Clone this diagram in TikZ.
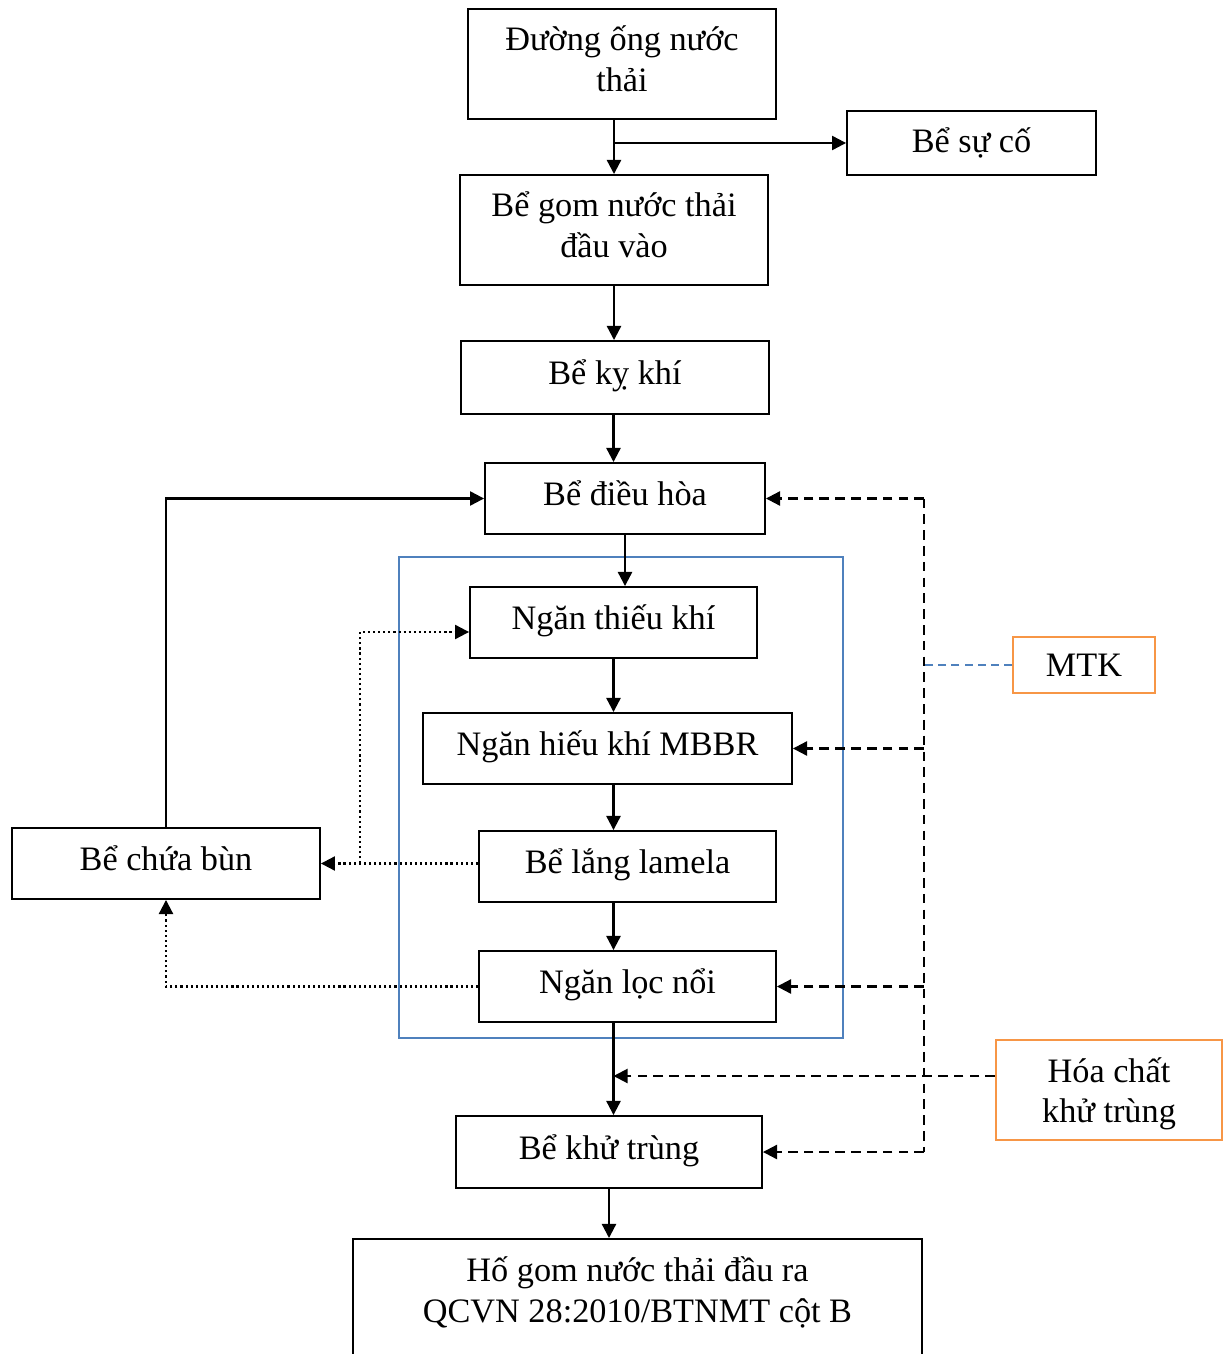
\documentclass[tikz,border=0pt]{standalone}
\usepackage{fontspec}
\setmainfont{Liberation Serif}
\usepackage{tikz}
\usetikzlibrary{calc}
\usetikzlibrary{arrows.meta}
\usepackage{xcolor}
\definecolor{khungxanh}{HTML}{4F81BD}
\definecolor{khungcam}{HTML}{F79646}

\begin{document}
\begin{tikzpicture}[x=0.02cm,y=-0.02cm,
        font=\fontsize{19.5}{23}\selectfont,
        >={Triangle[length=8pt,width=8pt]},
        khung/.style={draw,line width=1.1pt,align=center,inner sep=2pt},
        hop/.style={khung,text depth=6pt},
        hopcam/.style={draw=khungcam,line width=1.1pt,align=center,inner sep=2pt},
        chinh/.style={->,line width=1.25pt},
        hoachat/.style={->,line width=1.2pt,dash pattern=on 5.5pt off 3.5pt},
        bun/.style={->,line width=1.2pt,dash pattern=on 1.2pt off 1.7pt}]
        \clip (0,0) rectangle (1229,1354);

        \node[hop,minimum width=6.16cm,minimum height=2.2cm] (ong) at (622,64) {Đường ống nước\\thải};
        \node[khung,minimum width=4.98cm,minimum height=1.28cm] (suco) at (971.5,143) {Bể sự cố};
        \node[hop,minimum width=6.16cm,minimum height=2.2cm] (gom) at (614,230) {Bể gom nước thải\\đầu vào};
        \node[hop,minimum width=6.16cm,minimum height=1.46cm] (kykhi) at (615,377.5) {Bể kỵ khí};
        \node[hop,minimum width=5.6cm,minimum height=1.42cm] (dieuhoa) at (625,498.5) {Bể điều hòa};
        \node[hop,minimum width=5.74cm,minimum height=1.42cm] (thieukhi) at (613.5,622.5) {Ngăn thiếu khí};
        \node[hop,minimum width=7.38cm,minimum height=1.42cm] (mbbr) at (607.5,748.5) {Ngăn hiếu khí MBBR};
        \node[hop,minimum width=6.16cm,minimum height=1.42cm] (chuabun) at (166,863.5) {Bể chứa bùn};
        \node[hop,minimum width=5.94cm,minimum height=1.42cm] (lang) at (627.5,866.5) {Bể lắng lamela};
        \node[hop,minimum width=5.94cm,minimum height=1.42cm] (locnoi) at (627.5,986.5) {Ngăn lọc nổi};
        \node[hop,minimum width=6.12cm,minimum height=1.44cm] (khutrung) at (609,1152) {Bể khử trùng};
        \node[khung,minimum width=11.38cm,minimum height=2.84cm,anchor=north] (hogom) at (637.5,1238) {Hố gom nước thải đầu ra\\QCVN 28:2010/BTNMT cột B\\ };
        \node[hopcam,minimum width=2.84cm,minimum height=1.12cm] (mtk) at (1084,665) {MTK};
        \node[hopcam,text depth=0pt,minimum width=4.52cm,minimum height=2cm] (hoachat) at (1109,1090) {Hóa chất\\khử trùng};

        \draw[khungxanh,line width=0.9pt] (399,557) rectangle (843,1038);

        \draw[chinh] (gom.north |- ong.south) -- (gom.north);
        \draw[chinh] (gom.north |- suco.west) -- (suco.west);
        \draw[chinh] (gom.south) -- (gom.south |- kykhi.north);
        \draw[chinh] (thieukhi.south |- kykhi.south) -- (thieukhi.south |- dieuhoa.north);
        \draw[chinh] (dieuhoa.south) -- (dieuhoa.south |- thieukhi.north);
        \draw[chinh] (thieukhi.south) -- (thieukhi.south |- mbbr.north);
        \draw[chinh] (thieukhi.south |- mbbr.south) -- (thieukhi.south |- lang.north);
        \draw[chinh] (thieukhi.south |- lang.south) -- (thieukhi.south |- locnoi.north);
        \draw[chinh] (thieukhi.south |- locnoi.south) -- (thieukhi.south |- khutrung.north);
        \draw[chinh] (khutrung.south) -- (khutrung.south |- hogom.north);
        \draw[chinh] (chuabun.north) -- (chuabun.north |- dieuhoa.west) -- (dieuhoa.west);

        \coordinate (re) at (360,863.5);
        \draw[bun] (chuabun.east -| lang.west) -- (chuabun.east);
        \draw[bun] (re) |- ([yshift=-0.19cm]thieukhi.west);
        \draw[bun] (locnoi.west) -| (chuabun.south);

        \coordinate (dautren) at (924,498.5);
        \coordinate (dauduoi) at (924,1152);
        \draw[line width=1.2pt,dash pattern=on 5.5pt off 3.5pt] (dautren) -- (dauduoi);
        \draw[hoachat] (dautren) -- (dieuhoa.east);
        \draw[hoachat] (dautren |- mbbr.east) -- (mbbr.east);
        \draw[hoachat] (dautren |- locnoi.east) -- (locnoi.east);
        \draw[hoachat] (dauduoi) -- (khutrung.east);
        \draw[hoachat] (hoachat.west |- 0,1076) -- (thieukhi.south |- 0,1076);
        \draw[khungxanh,line width=0.9pt,dash pattern=on 4.5pt off 3pt] (mtk.west) -- (dautren |- mtk.west);
    \end{tikzpicture}
\end{document}
